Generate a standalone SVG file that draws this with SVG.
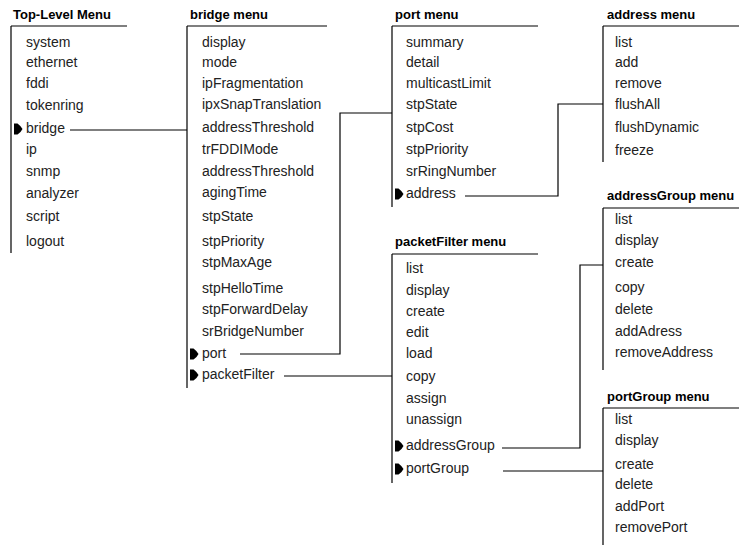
<svg xmlns="http://www.w3.org/2000/svg" xmlns:xlink="http://www.w3.org/1999/xlink" width="741" height="546" viewBox="0 0 741 546">
<style>
  .t { font-family: "Liberation Sans", Arial, sans-serif; font-size: 13px; font-weight: bold; fill: #000; }
  .i { font-family: "Liberation Sans", Arial, sans-serif; font-size: 14px; fill: #222; }
  .ln { stroke: #000; stroke-width: 1.2; fill: none; }
  .ptr { fill: #000; }
</style>
<defs>
  <path id="ptr" class="ptr" d="M0,-5.5 H3.5 Q7.5,-2.5 8.5,0 Q7.5,2.5 3.5,5.5 H0 Z"/>
</defs>
<rect width="741" height="546" fill="#fff"/>

<g id="connectors">
  <path class="ln" d="M70,130 H187"/>
  <path class="ln" d="M240,354 H340 V113 H392"/>
  <path class="ln" d="M284,376 H392"/>
  <path class="ln" d="M465,196 H558 V104 H603"/>
  <path class="ln" d="M502,448 H580 V265 H603"/>
  <path class="ln" d="M503,471 H603"/>
</g>

<g id="top-level-menu">
  <text class="t" x="13" y="19">Top-Level Menu</text>
  <path class="ln" d="M11,26 H127 M11,26 V253"/>
  <text class="i" x="26" y="47">system</text>
  <text class="i" x="26" y="67">ethernet</text>
  <text class="i" x="26" y="88">fddi</text>
  <text class="i" x="26" y="110">tokenring</text>
  <use xlink:href="#ptr" x="14" y="129"/>
  <text class="i" x="26" y="133">bridge</text>
  <text class="i" x="26" y="154">ip</text>
  <text class="i" x="26" y="176">snmp</text>
  <text class="i" x="26" y="198">analyzer</text>
  <text class="i" x="26" y="221">script</text>
  <text class="i" x="26" y="246">logout</text>
</g>

<g id="bridge-menu">
  <text class="t" x="190" y="19">bridge menu</text>
  <path class="ln" d="M187,26 H327 M187,26 V388"/>
  <text class="i" x="202" y="47">display</text>
  <text class="i" x="202" y="67">mode</text>
  <text class="i" x="202" y="88">ipFragmentation</text>
  <text class="i" x="202" y="109">ipxSnapTranslation</text>
  <text class="i" x="202" y="132">addressThreshold</text>
  <text class="i" x="202" y="154">trFDDIMode</text>
  <text class="i" x="202" y="176">addressThreshold</text>
  <text class="i" x="202" y="197">agingTime</text>
  <text class="i" x="202" y="221">stpState</text>
  <text class="i" x="202" y="246">stpPriority</text>
  <text class="i" x="202" y="267">stpMaxAge</text>
  <text class="i" x="202" y="293">stpHelloTime</text>
  <text class="i" x="202" y="314">stpForwardDelay</text>
  <text class="i" x="202" y="336">srBridgeNumber</text>
  <use xlink:href="#ptr" x="190" y="354"/>
  <text class="i" x="202" y="358">port</text>
  <use xlink:href="#ptr" x="190" y="375"/>
  <text class="i" x="202" y="379">packetFilter</text>
</g>

<g id="port-menu">
  <text class="t" x="395" y="19">port menu</text>
  <path class="ln" d="M392,26 H538 M392,26 V207"/>
  <text class="i" x="406" y="47">summary</text>
  <text class="i" x="406" y="67">detail</text>
  <text class="i" x="406" y="88">multicastLimit</text>
  <text class="i" x="406" y="109">stpState</text>
  <text class="i" x="406" y="132">stpCost</text>
  <text class="i" x="406" y="154">stpPriority</text>
  <text class="i" x="406" y="176">srRingNumber</text>
  <use xlink:href="#ptr" x="395" y="194"/>
  <text class="i" x="406" y="198">address</text>
</g>

<g id="packetFilter-menu">
  <text class="t" x="395" y="246">packetFilter menu</text>
  <path class="ln" d="M392,254 H538 M392,254 V483"/>
  <text class="i" x="406" y="273">list</text>
  <text class="i" x="406" y="295">display</text>
  <text class="i" x="406" y="316">create</text>
  <text class="i" x="406" y="337">edit</text>
  <text class="i" x="406" y="358">load</text>
  <text class="i" x="406" y="381">copy</text>
  <text class="i" x="406" y="403">assign</text>
  <text class="i" x="406" y="424">unassign</text>
  <use xlink:href="#ptr" x="395" y="446"/>
  <text class="i" x="406" y="450">addressGroup</text>
  <use xlink:href="#ptr" x="395" y="469"/>
  <text class="i" x="406" y="473">portGroup</text>
</g>

<g id="address-menu">
  <text class="t" x="607" y="19">address menu</text>
  <path class="ln" d="M603,26 H739 M603,26 V162"/>
  <text class="i" x="615" y="47">list</text>
  <text class="i" x="615" y="67">add</text>
  <text class="i" x="615" y="88">remove</text>
  <text class="i" x="615" y="109">flushAll</text>
  <text class="i" x="615" y="132">flushDynamic</text>
  <text class="i" x="615" y="155">freeze</text>
</g>

<g id="addressGroup-menu">
  <text class="t" x="607" y="200">addressGroup menu</text>
  <path class="ln" d="M603,208 H739 M603,208 V370"/>
  <text class="i" x="615" y="224">list</text>
  <text class="i" x="615" y="245">display</text>
  <text class="i" x="615" y="267">create</text>
  <text class="i" x="615" y="292">copy</text>
  <text class="i" x="615" y="314">delete</text>
  <text class="i" x="615" y="336">addAdress</text>
  <text class="i" x="615" y="357">removeAddress</text>
</g>

<g id="portGroup-menu">
  <text class="t" x="607" y="401">portGroup menu</text>
  <path class="ln" d="M603,408 H739 M603,408 V545"/>
  <text class="i" x="615" y="424">list</text>
  <text class="i" x="615" y="445">display</text>
  <text class="i" x="615" y="469">create</text>
  <text class="i" x="615" y="489">delete</text>
  <text class="i" x="615" y="511">addPort</text>
  <text class="i" x="615" y="532">removePort</text>
</g>
</svg>
